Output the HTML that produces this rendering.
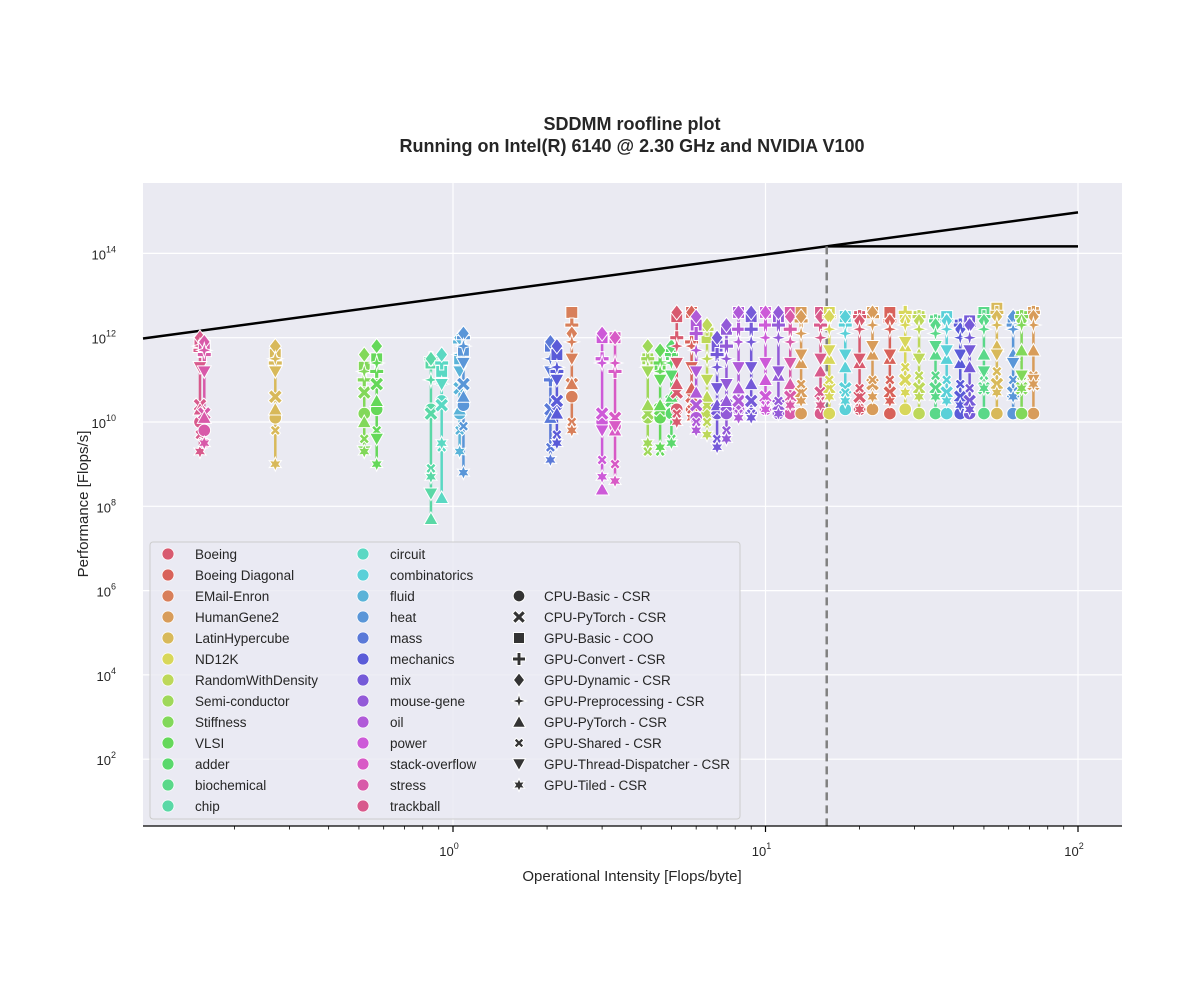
<!DOCTYPE html>
<html><head><meta charset="utf-8">
<style>
html,body{margin:0;padding:0;background:#fff;}
svg{display:block;font-family:"Liberation Sans","DejaVu Sans",sans-serif;}
</style></head>
<body>
<svg id="chart" width="1200" height="1000" viewBox="0 0 1200 1000">
  <text x="632" y="130" text-anchor="middle" font-size="18" font-weight="bold" fill="#262626">SDDMM roofline plot</text>
  <text x="632" y="152" text-anchor="middle" font-size="18" font-weight="bold" fill="#262626">Running on Intel(R) 6140 @ 2.30 GHz and NVIDIA V100</text>
  <rect x="143" y="183" width="979" height="643" fill="#eaeaf2"/>
  <g id="grid"></g>
  <g id="roof"></g>
  <g id="series"></g>
  <g id="axes"></g>
  <g id="legend"></g>
  <text x="632" y="881" text-anchor="middle" font-size="15" fill="#262626">Operational Intensity [Flops/byte]</text>
  <text transform="translate(88,504) rotate(-90)" text-anchor="middle" font-size="15" fill="#262626">Performance [Flops/s]</text>
</svg>
<script>
const categories = ["Boeing","Boeing Diagonal","EMail-Enron","HumanGene2","LatinHypercube","ND12K","RandomWithDensity","Semi-conductor","Stiffness","VLSI","adder","biochemical","chip","circuit","combinatorics","fluid","heat","mass","mechanics","mix","mouse-gene","oil","power","stack-overflow","stress","trackball"];
const methods = ["CPU-Basic - CSR","CPU-PyTorch - CSR","GPU-Basic - COO","GPU-Convert - CSR","GPU-Dynamic - CSR","GPU-Preprocessing - CSR","GPU-PyTorch - CSR","GPU-Shared - CSR","GPU-Thread-Dispatcher - CSR","GPU-Tiled - CSR"];
const markerShapes = ["circle","x","square","plus","diamond","star4","tri","xsmall","tridown","star6"];
const rowCats = [25,24,4,8,9,12,13,15,16,17,18,2,22,23,7,9,10,0,1,6,19,20,21,22,24,25,14,3,5,11,18,4,19,3,16,21,19,20,3,5,0,1,6,14,11,8];
const rowOI = [0.155,0.16,0.27,0.52,0.57,0.85,0.92,1.05,1.08,2.05,2.15,2.4,3.0,3.3,4.2,4.6,5.0,5.2,5.8,6.5,7.0,7.5,8.2,10,12,15,18,22,28,35,42,55,45,72,62,6.0,9,11,13,16,20,25,31,38,50,66];
const rowPerf = [
[10.0,10.4,11.9,11.7,12.0,11.8,10.3,9.7,11.3,9.3],
[9.8,10.2,11.8,11.6,11.9,11.7,10.1,9.5,11.2,9.5],
[10.1,10.6,11.6,11.4,11.8,11.5,10.3,9.8,11.2,9.0],
[10.2,10.7,11.3,11.0,11.6,11.2,10.0,9.6,9.3,9.3],
[10.3,10.9,11.5,11.2,11.8,11.4,10.5,9.8,9.6,9.0],
[10.3,10.2,11.4,11.5,11.5,11.0,7.7,8.9,8.3,8.7],
[10.5,10.4,11.2,11.4,11.6,10.9,8.2,9.4,10.9,9.5],
[10.2,10.8,11.5,11.9,12.0,11.6,10.3,9.8,11.2,9.3],
[10.4,10.9,11.7,12.0,12.1,11.8,10.6,9.9,11.4,8.8],
[10.2,10.3,11.8,11.0,11.9,11.5,10.1,9.4,11.2,9.1],
[10.4,10.5,11.6,11.2,11.8,11.3,10.2,9.7,11.0,9.5],
[10.6,10.9,12.6,12.3,12.1,11.9,10.9,10.0,11.5,9.8],
[10.0,10.2,12.0,11.5,12.1,11.4,8.4,9.1,9.8,8.7],
[9.9,10.1,12.0,11.2,12.0,11.4,9.8,9.0,9.9,8.6],
[10.1,10.2,11.5,11.5,11.8,11.3,10.4,9.3,11.2,9.5],
[10.1,10.3,11.3,11.4,11.7,11.2,10.4,9.3,11.0,9.4],
[10.2,10.5,11.6,11.6,11.8,11.4,10.6,9.6,11.1,9.5],
[10.3,10.7,12.5,12.0,12.6,11.8,10.9,10.2,11.4,10.0],
[10.3,10.6,12.6,11.9,12.6,11.8,10.8,10.3,11.3,10.1],
[10.2,10.4,12.0,12.2,12.3,11.5,10.6,10.0,11.0,9.7],
[10.2,10.3,11.8,11.6,12.0,11.3,10.4,9.6,10.8,9.4],
[10.2,10.4,12.2,11.8,12.3,11.5,10.5,9.8,10.9,9.6],
[10.3,10.5,12.6,12.2,12.6,11.9,10.8,10.2,11.3,10.1],
[10.3,10.6,12.6,12.3,12.6,12.0,11.0,10.4,11.4,10.3],
[10.2,10.6,12.6,12.2,12.5,11.9,10.9,10.4,11.4,10.4],
[10.2,10.7,12.6,12.3,12.5,12.0,11.2,10.5,11.5,10.4],
[10.3,10.8,12.5,12.3,12.5,12.1,11.3,10.7,11.6,10.5],
[10.3,10.9,12.6,12.5,12.6,12.3,11.6,11.0,11.8,10.6],
[10.3,11.0,12.5,12.6,12.4,12.3,11.8,11.3,11.9,10.7],
[10.2,10.8,12.4,12.4,12.3,12.1,11.6,11.1,11.8,10.6],
[10.2,10.6,12.3,12.3,12.2,12.0,11.4,10.9,11.6,10.4],
[10.2,10.9,12.7,12.6,12.5,12.3,11.8,11.2,11.6,10.7],
[10.2,10.5,12.4,12.3,12.3,12.0,11.3,10.8,11.7,10.3],
[10.2,10.9,12.6,12.6,12.5,12.3,11.7,11.1,11.0,10.9],
[10.2,10.7,12.4,12.3,12.5,12.2,11.6,11.0,11.4,10.6],
[10.1,10.4,12.3,12.1,12.5,11.7,10.7,10.0,11.2,9.8],
[10.2,10.5,12.5,12.2,12.6,11.9,10.9,10.2,11.3,10.1],
[10.2,10.4,12.5,12.3,12.6,12.0,11.1,10.5,11.2,10.2],
[10.2,10.7,12.6,12.4,12.5,12.1,11.4,10.9,11.6,10.5],
[10.2,10.8,12.6,12.5,12.5,12.2,11.5,11.0,11.7,10.6],
[10.3,10.6,12.5,12.5,12.4,12.2,11.4,10.8,11.5,10.3],
[10.2,10.7,12.6,12.4,12.4,12.2,11.5,11.0,11.6,10.5],
[10.2,10.8,12.5,12.5,12.4,12.2,11.6,11.1,11.5,10.6],
[10.2,10.7,12.5,12.4,12.4,12.2,11.5,11.0,11.7,10.5],
[10.2,10.8,12.6,12.5,12.4,12.2,11.6,11.1,11.2,10.8],
[10.2,10.8,12.5,12.5,12.4,12.3,11.7,11.1,11.1,10.8]
];
const xTicks = [0,1,2];
const yTicks = [2,4,6,8,10,12,14];
const peakPerf = 1.47e14;
const bandwidth = 9.4e12;
const ridgeOI = 15.7;

const NS="http://www.w3.org/2000/svg";
const X = v => 453 + 312.5*Math.log10(v);
const Y = lv => 422 - 42.15*(lv-10);
const colors = categories.map((c,i)=>`hsl(${(350+i*360/26)%360},62%,60%)`);
function mk(tag, attrs, parent){const e=document.createElementNS(NS,tag);for(const k in attrs)e.setAttribute(k,attrs[k]);parent.appendChild(e);return e;}
function plusPath(cx,cy,r,a){return `M${cx-a},${cy-r}h${2*a}v${r-a}h${r-a}v${2*a}h${-(r-a)}v${r-a}h${-2*a}v${-(r-a)}h${-(r-a)}v${-2*a}h${r-a}Z`;}
function shapePath(s,cx,cy,r){
  switch(s){
    case "square": return `M${cx-r*0.85},${cy-r*0.85}h${1.7*r}v${1.7*r}h${-1.7*r}Z`;
    case "diamond": return `M${cx},${cy-r*1.1}L${cx+r*0.85},${cy}L${cx},${cy+r*1.1}L${cx-r*0.85},${cy}Z`;
    case "tri": return `M${cx},${cy-r}L${cx+r},${cy+r*0.8}L${cx-r},${cy+r*0.8}Z`;
    case "tridown": return `M${cx},${cy+r}L${cx+r},${cy-r*0.8}L${cx-r},${cy-r*0.8}Z`;
    case "plus": return plusPath(cx,cy,r,r*0.3);
    case "x": return plusPath(cx,cy,r*1.1,r*0.32);
    case "xsmall": return plusPath(cx,cy,r*0.8,r*0.25);
    case "star4": {const pts=[];for(let i=0;i<8;i++){const t=-Math.PI/2+i*Math.PI/4;const rr=i%2?r*0.35:r*1.1;pts.push([cx+rr*Math.cos(t),cy+rr*Math.sin(t)]);}return "M"+pts.map(p=>p.join(",")).join("L")+"Z";}
    case "star6": {const pts=[];for(let i=0;i<12;i++){const t=-Math.PI/2+i*Math.PI/6;const rr=i%2?r*0.5:r;pts.push([cx+rr*Math.cos(t),cy+rr*Math.sin(t)]);}return "M"+pts.map(p=>p.join(",")).join("L")+"Z";}
  }
}
function drawMarker(parent,s,cx,cy,r,fill,stroke){
  if(s==="circle") return mk("circle",{cx,cy,r:r*0.9,fill,stroke,"stroke-width":1},parent);
  const a={d:shapePath(s,cx,cy,r),fill,stroke,"stroke-width":1};
  if(s==="x"||s==="xsmall") a.transform=`rotate(45 ${cx} ${cy})`;
  return mk("path",a,parent);
}
const grid=document.getElementById("grid");
xTicks.forEach(t=>{const l=mk("line",{x1:X(Math.pow(10,t)),x2:X(Math.pow(10,t)),y1:183,y2:826,stroke:"#fff","stroke-width":1.2},grid);

});
yTicks.forEach(t=>{const l=mk("line",{x1:143,x2:1122,y1:Y(t),y2:Y(t),stroke:"#fff","stroke-width":1.2},grid);

});
const roof=document.getElementById("roof");
const xmin=Math.pow(10,(143-453)/312.5);
const r1=mk("polyline",{points:`${X(xmin)},${Y(Math.log10(bandwidth*xmin))} ${X(100)},${Y(Math.log10(bandwidth*100))}`,fill:"none",stroke:"#000","stroke-width":2.5},roof);


const r2=mk("line",{x1:X(ridgeOI),x2:X(100),y1:Y(Math.log10(peakPerf)),y2:Y(Math.log10(peakPerf)),stroke:"#000","stroke-width":2.5},roof);


const r3=mk("line",{x1:X(ridgeOI),x2:X(ridgeOI),y1:Y(Math.log10(peakPerf)),y2:826,stroke:"#808080","stroke-width":2.5,"stroke-dasharray":"8,5"},roof);


const ser=document.getElementById("series");
rowCats.forEach((c,i)=>{
  const cx=X(rowOI[i]);const ys=rowPerf[i].map(v=>Y(v)).sort((a,b)=>a-b);
  const ln=mk("line",{x1:cx,x2:cx,y1:ys[0],y2:ys[ys.length-1],stroke:colors[c],"stroke-width":2.5},ser);
  
  
});
rowCats.forEach((c,i)=>{
  const cx=X(rowOI[i]);
  rowPerf[i].forEach((v,m)=>{
    const e=drawMarker(ser,markerShapes[m],cx,Y(v),7,colors[c],"#fff");
    
    
  });
});
const ax=document.getElementById("axes");
const sp=mk("line",{x1:143,x2:1122,y1:826,y2:826,stroke:"#000","stroke-width":1.3},ax);


for(let d=-1;d<=2;d++){for(let k=1;k<10;k++){const v=k*Math.pow(10,d);const px=X(v);if(px<143||px>1122)continue;
  const tk=mk("line",{x1:px,x2:px,y1:826,y2:826+(k===1?6:3.5),stroke:"#000","stroke-width":k===1?1.2:0.8},ax);
  
  }}
xTicks.forEach(t=>{const tx=mk("text",{x:X(Math.pow(10,t))-4,y:856,"text-anchor":"middle","font-size":13,fill:"#262626"},ax);
  tx.innerHTML=`10<tspan dy="-7" font-size="9">${t}</tspan>`;
  
  });
yTicks.forEach(t=>{const tx=mk("text",{x:116,y:Y(t)+6,"text-anchor":"end","font-size":13,fill:"#262626"},ax);
  tx.innerHTML=`10<tspan dy="-7" font-size="9">${t}</tspan>`;
  
  });
const lg=document.getElementById("legend");
const box=mk("rect",{x:150,y:542,width:590,height:277,rx:3,fill:"#eaeaf2",stroke:"#cccccc","stroke-width":1,"fill-opacity":0.8},lg);


categories.forEach((c,i)=>{
  const col=Math.floor(i/13);const row=i%13;
  const x=[168,363,519][col];const y=554+row*21;
  const m=mk("circle",{cx:x,cy:y,r:6,fill:colors[i],stroke:"#fff","stroke-width":0.8},lg);
  
  
  const t=mk("text",{x:x+27,y:y+5,"font-size":13.5,fill:"#262626"},lg);t.textContent=c;
  
  
});
methods.forEach((mname,i)=>{
  const x=519;const y=596+i*21;
  const m=drawMarker(lg,markerShapes[i],x,y,6.5,"#333","#fff");
  
  
  const t=mk("text",{x:x+25,y:y+5,"font-size":13.5,fill:"#262626"},lg);t.textContent=mname;
  
  
});
</script>
</body></html>
